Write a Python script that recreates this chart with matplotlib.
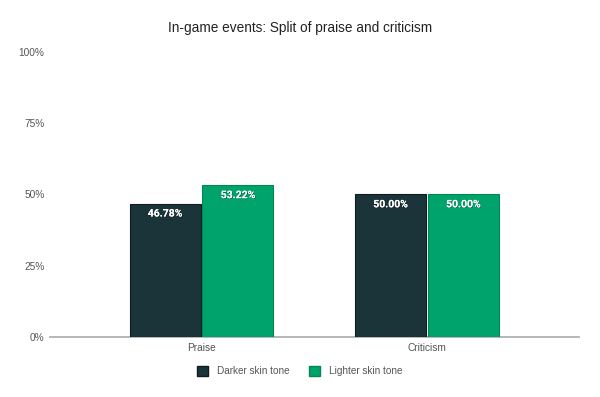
import matplotlib
matplotlib.use("Agg")
import matplotlib.pyplot as plt
import numpy as np
import matplotlib.patheffects as pe
from matplotlib.patches import Patch

categories = ["Praise", "Criticism"]
series_names = ["Darker skin tone", "Lighter skin tone"]
darker = [46.78, 50.00]
lighter = [53.22, 50.00]
yticks = [0, 25, 50, 75, 100]
ytick_labels = ["0%", "25%", "50%", "75%", "100%"]

colors = ["#1b3439", "#00a36b"]
edges = ["#0f1d20", "#04864f"]

plt.rcParams['font.family'] = ['Liberation Sans', 'DejaVu Sans']

fig = plt.figure(figsize=(6, 3.97), dpi=100)
ax = fig.add_axes([0.0833, 0.1511, 0.8817, 0.718])

x = np.arange(len(categories))
w = 0.315
off = 0.1615
for vals, c, ec, o in [(darker, colors[0], edges[0], -off), (lighter, colors[1], edges[1], off)]:
    bars = ax.bar(x + o, vals, width=w, color=c, edgecolor=ec, linewidth=0.8, zorder=3)
    for b, v in zip(bars, vals):
        t = ax.annotate(f"{v:.2f}%", (b.get_x() + b.get_width() / 2, v),
                        xytext=(0, -3.5), textcoords="offset points",
                        ha="center", va="top", color="white", fontsize=7.5,
                        fontweight="bold", zorder=4, family=["Roboto", "DejaVu Sans"])
        t.set_path_effects([pe.withSimplePatchShadow(offset=(0.4, -0.4), shadow_rgbFace="black", alpha=0.5), pe.Normal()])

ax.set_xlim(-0.672, 1.674)
ax.set_ylim(0, 100)
ax.set_yticks(yticks)
ax.set_yticklabels(ytick_labels)
ax.set_xticks(x)
ax.set_xticklabels(categories)
ax.tick_params(axis="both", length=0, labelsize=7.3, labelcolor="#555555")
ax.tick_params(axis="y", pad=4)
ax.tick_params(axis="x", pad=4)
for s in ["top", "right", "left"]:
    ax.spines[s].set_visible(False)
ax.spines["bottom"].set_color("#aaaaaa")
ax.spines["bottom"].set_linewidth(1.2)

fig.text(0.5, 0.93, "In-game events: Split of praise and criticism", ha="center", va="center",
         fontsize=9.8, color="#222222")

handles = [Patch(facecolor=colors[0], edgecolor=edges[0], label=series_names[0]),
           Patch(facecolor=colors[1], edgecolor=edges[1], label=series_names[1])]
fig.legend(handles=handles, loc="center", bbox_to_anchor=(0.5, 0.065), ncol=2, frameon=False,
           fontsize=7.2, handlelength=1.1, handleheight=1.1, columnspacing=1.9, handletextpad=0.9,
           labelcolor="#555555")

fig.savefig("out.png", dpi=100)
